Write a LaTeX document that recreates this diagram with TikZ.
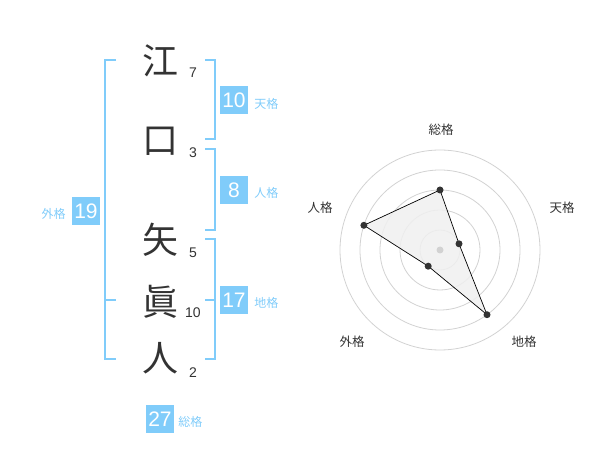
\documentclass[tikz,border=0pt]{standalone}
\usepackage{fontspec}
\setmainfont{Liberation Sans}
\newfontfamily\jpfont{Noto Sans CJK JP}
\usetikzlibrary{positioning,calc}
\definecolor{kakublue}{RGB}{128,204,250}
\definecolor{inkgray}{RGB}{51,51,51}
\definecolor{ringgray}{RGB}{210,210,210}

\begin{document}
\begin{tikzpicture}[x=1pt, y=-1pt,
    kanji/.style={text=inkgray, inner sep=0pt, font=\jpfont\fontsize{36}{36}\selectfont},
    strokes/.style={text=inkgray, inner sep=0pt, font=\fontsize{14}{14}\selectfont},
    kakubox/.style={fill=kakublue, text=white, minimum width=28pt, minimum height=28pt, inner sep=0pt, font=\fontsize{21}{21}\selectfont},
    kakuname/.style={text=kakublue, inner sep=0pt, font=\jpfont\fontsize{12}{12}\selectfont},
    bracket/.style={draw=kakublue, line width=2pt},
    axisname/.style={text=inkgray, inner sep=0pt, font=\jpfont\fontsize{12.5}{12.5}\selectfont},
    ring/.style={draw=ringgray, line width=0.8pt},
    dot/.style={circle, fill=inkgray, inner sep=0pt, minimum size=7pt}]
    \useasboundingbox (0,0) rectangle (600,470);

    % Name
    \node[kanji] (k1) at (160,61) {江};
    \node[kanji] (k2) at (160,141) {口};
    \node[kanji] (k3) at (160,240) {矢};
    \node[kanji] (k4) at (160,302) {眞};
    \node[kanji] (k5) at (160,358) {人};

    % Strokes
    \node[strokes] (s1) at (193,73) {7};
    \node[strokes] (s2) at (193,153) {3};
    \node[strokes] (s3) at (193,253) {5};
    \node[strokes] (s4) at (193,313) {10};
    \node[strokes] (s5) at (193,373) {2};

    % Brackets
    \draw[bracket] (205,60) -- (214.5,60) -- (214.5,139.5) -- (205,139.5);
    \draw[bracket] (205,149.5) -- (214.5,149.5) -- (214.5,230) -- (205,230);
    \draw[bracket] (205,239.5) -- (214.5,239.5) -- (214.5,359.5) -- (205,359.5);
    \draw[bracket] (205,300) -- (214.5,300);
    \draw[bracket] (116,60) -- (105,60) -- (105,359.5) -- (116,359.5);
    \draw[bracket] (105,300) -- (116,300);

    % Boxes
    \node[kakubox] (ten) at (234,100.5) {10};
    \node[kakuname, right=6pt of ten, yshift=-3pt] (tenname) {天格};
    \node[kakubox] (jin) at (234,190) {8};
    \node[kakuname, right=6pt of jin, yshift=-3pt] (jinname) {人格};
    \node[kakubox] (chi) at (234,300) {17};
    \node[kakuname, right=6pt of chi, yshift=-3pt] (chiname) {地格};
    \node[kakubox] (gai) at (86,211) {19};
    \node[kakuname, left=6pt of gai, yshift=-3pt] (gainame) {外格};
    \node[kakubox] (sou) at (160,419) {27};
    \node[kakuname, right=4pt of sou, yshift=-3pt] (souname) {総格};

    % Radar
    \coordinate (center) at (440,250);
    \draw[ring] (center) circle (20);
    \draw[ring] (center) circle (40);
    \draw[ring] (center) circle (60);
    \draw[ring] (center) circle (80);
    \draw[ring] (center) circle (100);

    \coordinate (psou) at (440,190);
    \coordinate (pten) at (459,243.8);
    \coordinate (pchi) at (487,314.7);
    \coordinate (pgai) at (428.2,266.2);
    \coordinate (pjin) at (363.9,225.3);
    \draw[fill=black!6, fill opacity=0.85, draw=black, line width=0.7pt]
        (psou) -- (pten) -- (pchi) -- (pgai) -- (pjin) -- cycle;
    \node[circle, fill=ringgray, inner sep=0pt, minimum size=7pt] (mid) at (center) {};
    \node[dot] (dsou) at (psou) {};
    \node[dot] (dten) at (pten) {};
    \node[dot] (dchi) at (pchi) {};
    \node[dot] (dgai) at (pgai) {};
    \node[dot] (djin) at (pjin) {};

    % Axis names
    \node[axisname] (asou) at (441,130) {総格};
    \node[axisname] (aten) at (562,208) {天格};
    \node[axisname] (achi) at (524,342) {地格};
    \node[axisname] (agai) at (352,342) {外格};
    \node[axisname] (ajin) at (320,208) {人格};
\end{tikzpicture}
\end{document}
